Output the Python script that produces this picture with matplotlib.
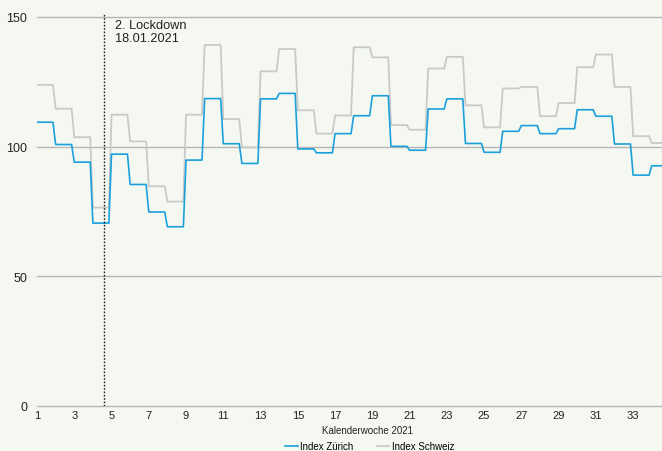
import matplotlib
matplotlib.use("Agg")
import matplotlib.pyplot as plt
import numpy as np
from matplotlib.lines import Line2D

plt.rcParams['font.family'] = ['Liberation Sans', 'DejaVu Sans']

weeks = list(range(1, 35))
index_zuerich = [109.4, 100.8, 94.0, 70.5, 97.1, 85.4, 74.8, 69.1, 94.8, 118.5,
                 101.1, 93.5, 118.4, 120.5, 99.1, 97.6, 105.0, 111.9, 119.6, 100.1,
                 98.6, 114.5, 118.4, 101.2, 97.8, 105.9, 108.1, 105.0, 106.9, 114.2,
                 111.7, 101.0, 89.0, 92.6]
index_schweiz = [123.8, 114.6, 103.6, 76.5, 112.3, 102.0, 84.7, 78.8, 112.3, 139.2,
                 110.6, 99.7, 129.0, 137.6, 114.0, 105.0, 112.0, 138.3, 134.4, 108.3,
                 106.5, 130.1, 134.6, 115.9, 107.4, 122.4, 123.0, 111.7, 116.8, 130.6,
                 135.5, 123.0, 104.0, 101.4]
xticks = list(range(1, 35, 2))
yticks = [0, 50, 100, 150]
lockdown_week = 4.6
lockdown_label = "2. Lockdown\n18.01.2021"
xlabel = "Kalenderwoche 2021"
series_names = ["Index Zürich", "Index Schweiz"]

BLUE = "#1ba0db"
GRAY = "#c9c9c9"
BG = "#f4f8f1"
GRID = "#b5b5b5"

def daily_steps(wk, vals):
    # each weekly value held from Monday to Sunday (7 days)
    xs, ys = [], []
    for w, v in zip(wk, vals):
        xs += [w, w + 6 / 7]
        ys += [v, v]
    return xs, ys

fig = plt.figure(figsize=(6.62, 4.52), dpi=100, facecolor=BG)
ax = fig.add_axes([37 / 662, 45 / 452, 625 / 662, 393 / 452])
ax.set_facecolor(BG)

for y in yticks:
    ax.axhline(y, color=GRID, lw=1.0, zorder=1, clip_on=False)

xs, ys = daily_steps(weeks, index_schweiz)
ax.plot(xs, ys, color=GRAY, lw=1.3, zorder=2)
xs, ys = daily_steps(weeks, index_zuerich)
ax.plot(xs, ys, color=BLUE, lw=1.2, zorder=3)

ax.axvline(lockdown_week, color="#222222", lw=1.0, linestyle=(0, (1.2, 1.2)), zorder=4)
ax.text(lockdown_week + 0.6, 149, lockdown_label, fontsize=9.2, va="top", ha="left",
        color="#222222", linespacing=1.1)

ax.set_xlim(1, 34.55)
ax.set_ylim(0, 151.5)
ax.set_xticks(xticks)
ax.set_xticklabels([str(t) for t in xticks], fontsize=8, color="#222222")
ax.set_yticks(yticks)
ax.set_yticklabels([str(t) for t in yticks], fontsize=9, color="#222222")
ax.tick_params(axis="x", length=0, pad=3)
ax.tick_params(axis="y", length=0, pad=7)
for s in ax.spines.values():
    s.set_visible(False)

fig.text(367 / 662, 1 - 431 / 452, xlabel, fontsize=7, ha="center", va="center", color="#222222")

handles = [Line2D([], [], color=BLUE, lw=1.2), Line2D([], [], color=GRAY, lw=1.3)]
fig.legend(handles, series_names, loc="center", bbox_to_anchor=(370 / 662, 1 - 447 / 452),
           ncol=2, frameon=False, fontsize=7, handlelength=1.25, handletextpad=0.3,
           columnspacing=2.4)

fig.savefig("out.png", dpi=100, facecolor=BG)
